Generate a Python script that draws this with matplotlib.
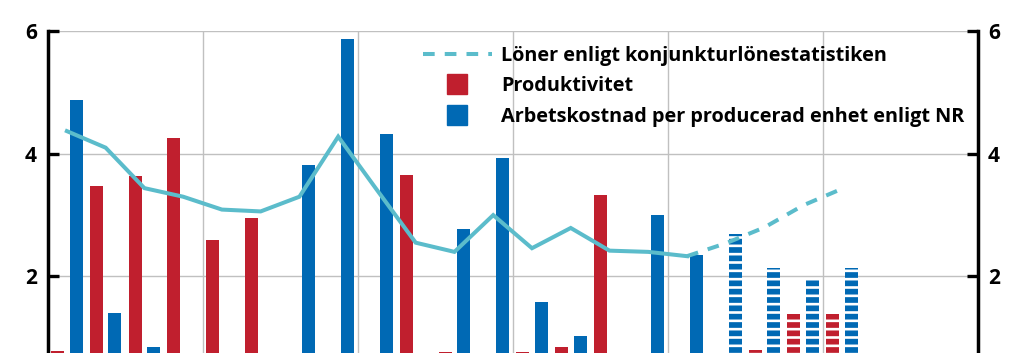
import numpy as np
import matplotlib
matplotlib.use("Agg")
import matplotlib.pyplot as plt
from matplotlib.lines import Line2D

# ---------------- data ----------------
n_groups = 24
quarters = np.arange(n_groups)

productivity = [0.79, 3.47, 3.64, 4.25, 2.59, 2.95, 0.50, 0.30, 0.60, 3.65, 0.77, 0.40,
                0.77, 0.85, 3.33, 0.50, 0.40, 0.50, 0.80, 1.39, 1.38, np.nan, np.nan, np.nan]
unit_labour_cost = [4.87, 1.40, 0.85, 0.30, 0.20, 0.50, 3.82, 5.87, 4.33, 0.40, 2.78, 3.93,
                    1.59, 1.02, 0.50, 3.00, 2.35, 2.69, 2.13, 1.95, 2.13, np.nan, np.nan, np.nan]
wages_outcome = [4.37, 4.10, 3.44, 3.30, 3.09, 3.06, 3.30, 4.28, 3.41, 2.55, 2.40, 3.00,
                 2.46, 2.79, 2.42, 2.40, 2.33]
wages_forecast = [2.33, 2.54, 2.80, 3.16, 3.43]
forecast_start = 16          # last outcome quarter (line)
bar_forecast_start = 17      # first forecast quarter (bars)

yticks = [2, 4, 6]
legend_labels = ["Löner enligt konjunkturlönestatistiken",
                 "Produktivitet",
                 "Arbetskostnad per producerad enhet enligt NR"]

# ---------------- style ----------------
RED = "#C01F2E"
BLUE = "#0069B4"
TEAL = "#5BBCCB"
GRID = "#C0C0C0"
FONT = ["Open Sans", "DejaVu Sans"]

plt.rcParams["font.family"] = FONT
plt.rcParams["hatch.linewidth"] = 1.9

W, H = 1024, 353
fig = plt.figure(figsize=(W / 100, H / 100), dpi=100)
left_px, right_px = 47.5, 977.7
top_px, zero_px = 31.2, 31.2 + 6 * 61.3
ax = fig.add_axes([left_px / W, 1 - zero_px / H, (right_px - left_px) / W, (zero_px - top_px) / H])

bw = 0.335
off = 0.24
prod = np.array(productivity, dtype=float)
ulc = np.array(unit_labour_cost, dtype=float)

hist = quarters < bar_forecast_start
fc = (quarters >= bar_forecast_start)

ax.bar(quarters[hist] - off, prod[hist], width=bw, color=RED, zorder=2, linewidth=0)
ax.bar(quarters[hist] + off, ulc[hist], width=bw, color=BLUE, zorder=2, linewidth=0)
ax.bar(quarters[fc] - off, prod[fc], width=bw, color=RED, edgecolor="white",
       hatch="--", zorder=2, linewidth=0)
ax.bar(quarters[fc] + off, ulc[fc], width=bw, color=BLUE, edgecolor="white",
       hatch="--", zorder=2, linewidth=0)

x_out = quarters[:forecast_start + 1]
x_fc = quarters[forecast_start:forecast_start + len(wages_forecast)]
ax.plot(x_out, wages_outcome, color=TEAL, lw=2.9, zorder=3, solid_joinstyle="miter")
ax.plot(x_fc, wages_forecast, color=TEAL, lw=2.9, zorder=3, dashes=(2.9, 2.5))

ax.set_xlim(-0.5, n_groups - 0.5)
ax.set_ylim(0, 6)
ax.set_yticks(yticks)
ax.set_yticklabels([str(t) for t in yticks])
ax.set_xticks(np.arange(3.5, n_groups - 1, 4))
ax.tick_params(axis="x", length=0, labelbottom=False)
ax.tick_params(axis="y", direction="in", length=8, width=2.4, color="black",
               left=True, right=True, labelleft=True, labelright=True, pad=7.5,
               labelsize=15)
for lab in ax.get_yticklabels():
    lab.set_fontweight("bold")
ax.yaxis.grid(True, color=GRID, lw=1.0, zorder=0)
ax.xaxis.grid(True, color=GRID, lw=1.0, zorder=0)
ax.axhline(0, color=GRID, lw=1.0, zorder=0)
ax.set_axisbelow(True)
for s in ["top", "bottom"]:
    ax.spines[s].set_visible(False)
for s in ["left", "right"]:
    ax.spines[s].set_linewidth(2.5)
    ax.spines[s].set_color("black")

handles = [Line2D([], [], color=TEAL, lw=2.9, dashes=(2.9, 2.5)),
           Line2D([], [], color=RED, marker="s", markersize=14.4, linestyle="none"),
           Line2D([], [], color=BLUE, marker="s", markersize=14.4, linestyle="none")]
leg = ax.legend(handles, legend_labels, loc="upper left",
                bbox_to_anchor=(423 / W, 1 - 46 / H), bbox_transform=fig.transFigure,
                frameon=False, borderpad=0, borderaxespad=0, handlelength=3.45,
                handletextpad=0.5, labelspacing=0.52,
                prop={"family": FONT, "weight": "bold", "size": 14.3})

fig.savefig("out.png", dpi=100)
